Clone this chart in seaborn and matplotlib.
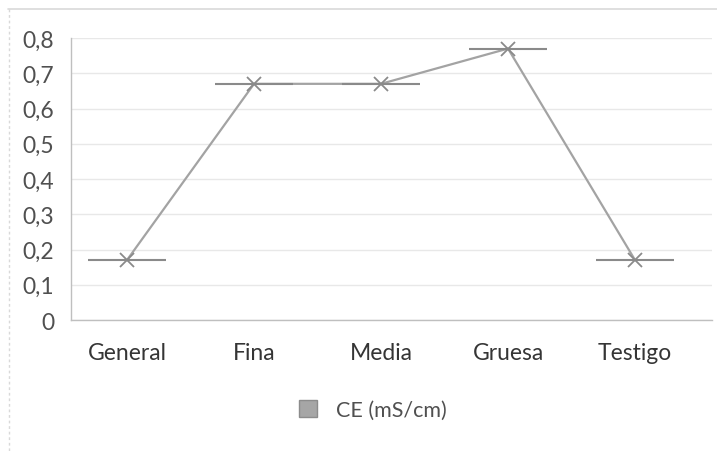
import matplotlib
matplotlib.use("Agg")
import matplotlib.pyplot as plt
import seaborn as sns
import pandas as pd
from matplotlib.patches import Patch
from matplotlib.lines import Line2D

categories = ["General", "Fina", "Media", "Gruesa", "Testigo"]
ce_values = [0.17, 0.67, 0.67, 0.77, 0.17]
y_ticks = [0, 0.1, 0.2, 0.3, 0.4, 0.5, 0.6, 0.7, 0.8]
y_tick_labels = ["0", "0,1", "0,2", "0,3", "0,4", "0,5", "0,6", "0,7", "0,8"]
series_label = "CE (mS/cm)"

sns.set_theme(style="white")
plt.rcParams["font.family"] = ["Lato", "DejaVu Sans"]

df = pd.DataFrame({"cat": categories, "val": ce_values, "pos": range(len(categories))})

fig = plt.figure(figsize=(7.17, 4.52), dpi=100)
ax = fig.add_axes([71 / 717, 1 - 321 / 452, (712 - 71) / 717, (321 - 39) / 452])

line_color = "#a3a3a3"
marker_color = "#8a8a8a"

sns.lineplot(data=df, x="pos", y="val", ax=ax, color=line_color, linewidth=1.6,
             marker="x", markersize=10, markeredgewidth=1.3,
             markeredgecolor=marker_color, zorder=3)
sns.scatterplot(data=df, x="pos", y="val", ax=ax, marker="_", s=56 ** 2,
                color=marker_color, linewidth=1.5, zorder=4, legend=False)

ax.set_xlim(-0.441, 4.606)
ax.set_ylim(0, 0.8)
ax.set_yticks(y_ticks)
ax.set_yticklabels(y_tick_labels)
ax.set_xticks(range(len(categories)))
ax.set_xticklabels(categories)
ax.set_xlabel("")
ax.set_ylabel("")

ax.grid(axis="y", color="#e8e8e8", linewidth=1)
ax.set_axisbelow(True)
for s in ["top", "right"]:
    ax.spines[s].set_visible(False)
for s in ["left", "bottom"]:
    ax.spines[s].set_color("#bfbfbf")
    ax.spines[s].set_linewidth(1)

ax.tick_params(axis="y", length=0, pad=12, labelsize=16.5, labelcolor="#505050")
ax.tick_params(axis="x", length=0, pad=16, labelsize=16.5, labelcolor="#353535")

handle = Patch(facecolor="#a6a6a6", edgecolor="#8c8c8c", label=series_label)
fig.legend(handles=[handle], loc="center", bbox_to_anchor=(373 / 717, 1 - 411 / 452),
           frameon=False, fontsize=15.5, handlelength=0.8, handleheight=0.8,
           handletextpad=0.9, labelcolor="#505050")

fig.add_artist(Line2D([8 / 717, 1], [1 - 10 / 452, 1 - 10 / 452],
                      transform=fig.transFigure, color="#d9d9d9", linewidth=1.2))
fig.add_artist(Line2D([9 / 717, 9 / 717], [1 - 10 / 452, 0],
                      transform=fig.transFigure, color="#d9d9d9", linewidth=1.0,
                      linestyle=(0, (2, 2))))

fig.savefig("out.png", dpi=100)
